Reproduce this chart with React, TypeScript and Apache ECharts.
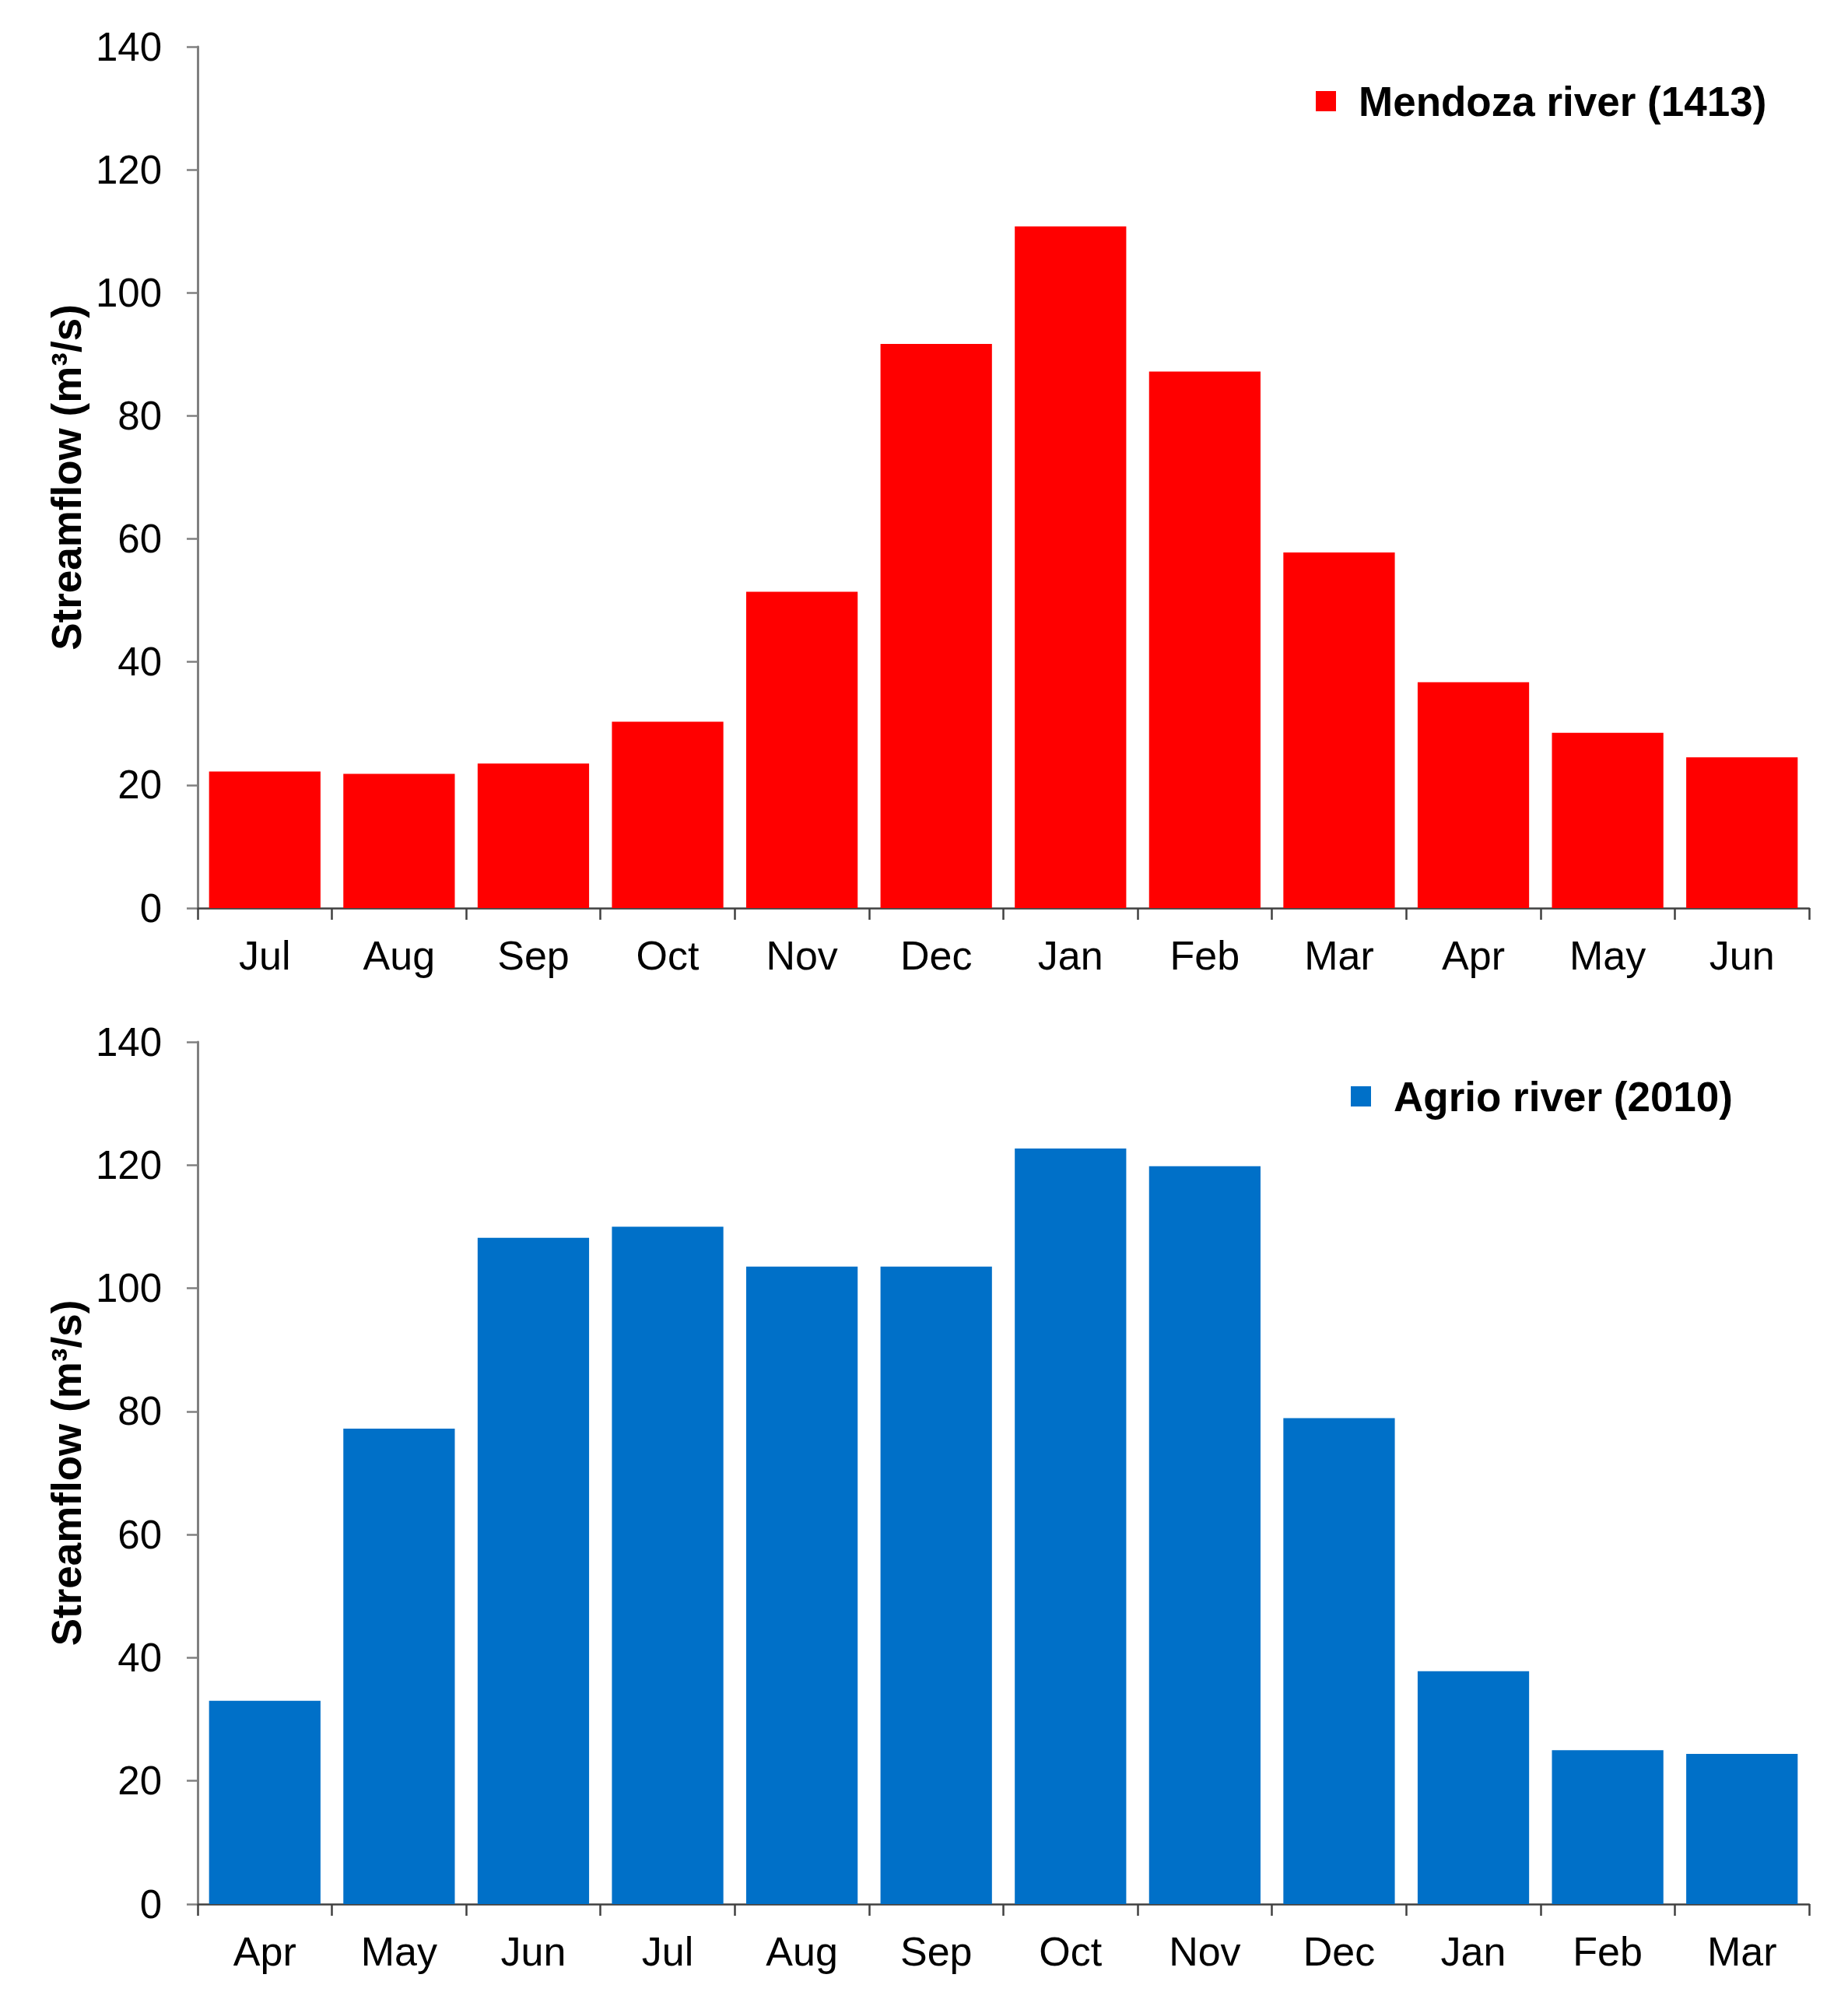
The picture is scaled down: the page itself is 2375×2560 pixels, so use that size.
import React, { useEffect, useRef } from "react";
import * as echarts from "echarts";

const mendozaMonths = ["Jul", "Aug", "Sep", "Oct", "Nov", "Dec", "Jan", "Feb", "Mar", "Apr", "May", "Jun"];
const mendozaFlow = [22.2, 21.8, 23.5, 30.3, 51.4, 91.7, 110.8, 87.2, 57.8, 36.7, 28.5, 24.5];
const agrioMonths = ["Apr", "May", "Jun", "Jul", "Aug", "Sep", "Oct", "Nov", "Dec", "Jan", "Feb", "Mar"];
const agrioFlow = [33.0, 77.2, 108.2, 110.0, 103.5, 103.5, 122.7, 119.8, 78.9, 37.8, 25.0, 24.4];
const seriesNames = ["Mendoza river (1413)", "Agrio river (2010)"];
const yTicks = { min: 0, max: 140, interval: 20 };
const axisTitle = "Streamflow (m³/s)";

const FONT = "'Liberation Sans', Arial, sans-serif";

function xAxis(data: string[], gridIndex: number) {
  return {
    type: "category",
    gridIndex,
    data,
    boundaryGap: true,
    axisLine: { show: true, lineStyle: { color: "#404040", width: 2.5 } },
    axisTick: { show: true, alignWithLabel: false, length: 15, lineStyle: { color: "#404040", width: 2.5 } },
    axisLabel: { color: "#000", fontSize: 52, fontFamily: FONT, margin: 35 },
    splitLine: { show: false },
  };
}

function yAxis(gridIndex: number) {
  return {
    type: "value",
    gridIndex,
    min: yTicks.min,
    max: yTicks.max,
    interval: yTicks.interval,
    name: axisTitle,
    nameLocation: "middle",
    nameGap: 142,
    nameTextStyle: { color: "#000", fontSize: 53, fontWeight: "bold", fontFamily: FONT },
    axisLine: { show: true, lineStyle: { color: "#808080", width: 3 } },
    axisTick: { show: true, length: 14, lineStyle: { color: "#808080", width: 2.5 } },
    axisLabel: { color: "#000", fontSize: 51, fontFamily: FONT, margin: 46 },
    splitLine: { show: false },
  };
}

function legend(name: string, left: number, top: number) {
  return {
    data: [name],
    left,
    top,
    icon: "rect",
    itemWidth: 26,
    itemHeight: 26,
    selectedMode: false,
    textStyle: {
      color: "#000",
      fontSize: 53,
      fontWeight: "bold",
      fontFamily: FONT,
      lineHeight: 60,
      padding: [0, 0, 0, 24],
    },
  };
}

export default function App() {
  const ref = useRef<HTMLDivElement>(null);
  useEffect(() => {
    if (!ref.current) return;
    const chart = echarts.init(ref.current, null, { renderer: "svg" });
    chart.setOption({
      animation: false,
      backgroundColor: "#fff",
      grid: [
        { left: 254, right: 50, top: 60, height: 1107 },
        { left: 254, right: 50, top: 1339, height: 1108 },
      ],
      legend: [legend(seriesNames[0], 1686, 95), legend(seriesNames[1], 1731, 1374)],
      xAxis: [xAxis(mendozaMonths, 0), xAxis(agrioMonths, 1)],
      yAxis: [yAxis(0), yAxis(1)],
      series: [
        {
          name: seriesNames[0],
          type: "bar",
          xAxisIndex: 0,
          yAxisIndex: 0,
          data: mendozaFlow,
          barCategoryGap: "17%",
          itemStyle: { color: "#FF0000" },
        },
        {
          name: seriesNames[1],
          type: "bar",
          xAxisIndex: 1,
          yAxisIndex: 1,
          data: agrioFlow,
          barCategoryGap: "17%",
          itemStyle: { color: "#0070C8" },
        },
      ],
    });
    return () => chart.dispose();
  }, []);
  return (
    <div
      ref={ref}
      style={{ position: "absolute", left: 0, top: 0, width: 2375, height: 2560, background: "#fff" }}
    />
  );
}
